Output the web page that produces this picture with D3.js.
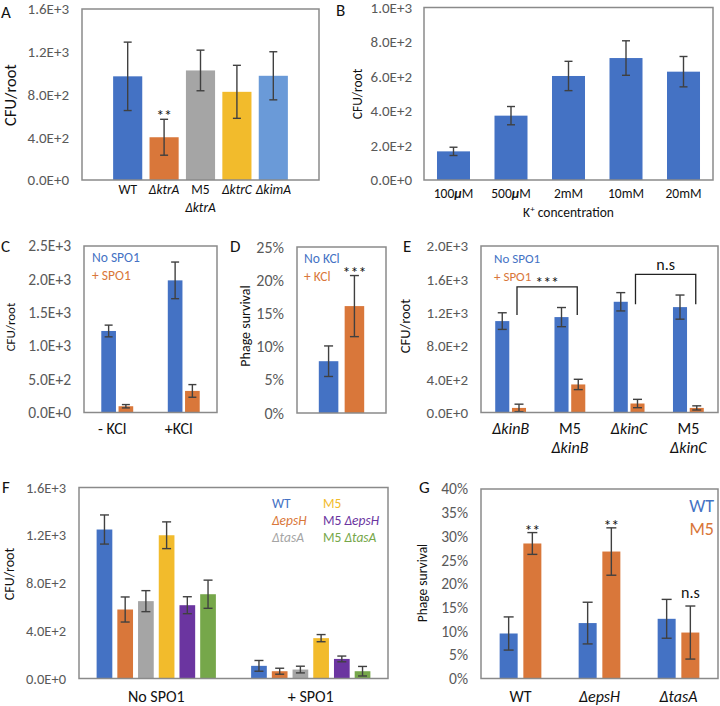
<!DOCTYPE html>
<html><head><meta charset="utf-8">
<script src="https://cdn.jsdelivr.net/npm/d3@7"></script>
<style>
body{margin:0;background:#fff}
svg{display:block}
text{font-family:Carlito, Lato, "Open Sans", sans-serif}
</style>
</head><body>
<svg id="c" width="720" height="706"></svg>
<script>
// ---------------- DATA ----------------
// Panel A
const aCategories = ["WT", "ΔktrA", "M5\nΔktrA", "ΔktrC", "ΔkimA"];
const aValues = [970, 400, 1025, 825, 975];
const aErrors = [320, 168, 190, 248, 225];
const aTicks = [0, 400, 800, 1200, 1600];
// Panel B
const bCategories = ["100µM", "500µM", "2mM", "10mM", "20mM"];
const bValues = [166, 373, 603, 707, 628];
const bErrors = [24, 53, 85, 100, 88];
const bTicks = [0, 200, 400, 600, 800, 1000];
// Panel C
const cGroups = ["- KCl", "+KCl"];
const cSeries = ["No SPO1", "+ SPO1"];
const cNoSpo = [1224, 1984];
const cNoSpoErr = [88, 275];
const cSpo = [94, 324];
const cSpoErr = [25, 95];
const cTicks = [0, 500, 1000, 1500, 2000, 2500];
// Panel D
const dSeries = ["No KCl", "+ KCl"];
const dValues = [7.8, 16.1];
const dErrors = [2.3, 4.6];
const dTicks = [0, 5, 10, 15, 20, 25];
// Panel E
const eGroups = ["ΔkinB", "M5\nΔkinB", "ΔkinC", "M5\nΔkinC"];
const eSeries = ["No SPO1", "+ SPO1"];
const eNoSpo = [1098, 1146, 1330, 1266];
const eNoSpoErr = [100, 115, 110, 145];
const eSpo = [55, 337, 108, 55];
const eSpoErr = [45, 62, 50, 25];
const eTicks = [0, 400, 800, 1200, 1600, 2000];
const eBrackets = [
  {from: "ΔkinB", to: "M5\nΔkinB", top: 1510, low: 1170, label: "***"},
  {from: "ΔkinC", to: "M5\nΔkinC", top: 1660, low: 1300, label: "n.s"}
];
// Panel F
const fGroups = ["No SPO1", "+ SPO1"];
const fStrains = ["WT", "ΔepsH", "ΔtasA", "M5", "M5 ΔepsH", "M5 ΔtasA"];
const fNoSpo = [1248, 578, 648, 1200, 614, 706];
const fNoSpoErr = [122, 105, 88, 112, 71, 118];
const fSpo = [106, 61, 75, 338, 164, 61];
const fSpoErr = [45, 25, 28, 30, 24, 40];
const fTicks = [0, 400, 800, 1200, 1600];
// Panel G
const gGroups = ["WT", "ΔepsH", "ΔtasA"];
const gSeries = ["WT", "M5"];
const gWT = [9.5, 11.7, 12.6];
const gWTErr = [3.5, 4.4, 4.1];
const gM5 = [28.5, 26.8, 9.7];
const gM5Err = [2.3, 5.0, 5.6];
const gSig = ["**", "**", "n.s"];
const gTicks = [0, 5, 10, 15, 20, 25, 30, 35, 40];

// ---------------- STYLE ----------------
const BLUE = "#4472C4", ORANGE = "#D9773A", GRAY = "#A5A5A5", YELLOW = "#F2BB2C",
      LBLUE = "#6A9AD8", PURPLE = "#6B35A0", GREEN = "#76A74A";
const aColors = [BLUE, ORANGE, GRAY, YELLOW, LBLUE];
const twoColors = [BLUE, ORANGE];
const fColors = [BLUE, ORANGE, GRAY, YELLOW, PURPLE, GREEN];
const ERR = "#404040", FRAME = "#8a8a8a", TICKC = "#595959";

const svg = d3.select("#c");
const fmtE = v => v.toExponential(1).toUpperCase();
const fmtP = v => v + "%";

function frame(p) {
  const y = d3.scaleLinear().domain([0, p.max]).range([p.bottom, p.top]);
  const ax = d3.axisLeft(y).tickValues(p.ticks).tickFormat(p.fmt).tickSize(0).tickPadding(p.pad || 13);
  const a = svg.append("g").attr("transform", `translate(${p.x0},0)`).call(ax);
  a.select(".domain").remove();
  a.selectAll("text").attr("fill", TICKC).style("font-size", (p.tickSize || 15) + "px");
  return y;
}
function drawFrame(p) {
  svg.append("rect").attr("x", p.x0).attr("y", p.top).attr("width", p.x1 - p.x0)
    .attr("height", p.bottom - p.top).attr("fill", "none").attr("stroke", FRAME).attr("stroke-width", 1.5);
}
function errorBar(cx, y, v, e, cap) {
  const g = svg.append("g").attr("stroke", ERR).attr("stroke-width", 1.4);
  const t = y(v + e), b = y(Math.max(0, v - e));
  g.append("line").attr("x1", cx).attr("x2", cx).attr("y1", t).attr("y2", b);
  g.append("line").attr("x1", cx - cap).attr("x2", cx + cap).attr("y1", t).attr("y2", t);
  g.append("line").attr("x1", cx - cap).attr("x2", cx + cap).attr("y1", b).attr("y2", b);
}
function bar(x, w, y, v, color) {
  svg.append("rect").attr("x", x).attr("width", w).attr("y", y(v)).attr("height", y(0) - y(v)).attr("fill", color);
}
function richText(sel, line) {
  const toks = line.split(" ");
  toks.forEach((t, i) => {
    const s = (i > 0 ? " " : "");
    if (t.startsWith("Δ")) {
      sel.append("tspan").text(s + t).style("font-style", "italic");
    } else if (t.includes("µ")) {
      const parts = t.split("µ");
      sel.append("tspan").text(s + parts[0]);
      sel.append("tspan").text("μ").style("font-style", "italic").style("font-weight", "bold");
      sel.append("tspan").text(parts[1]);
    } else {
      sel.append("tspan").text(s + t);
    }
  });
}
function label(text, x, y, opts = {}) {
  const lines = text.split("\n");
  lines.forEach((ln, i) => {
    const t = svg.append("text").attr("x", x).attr("y", y + i * (opts.lh || 16))
      .attr("text-anchor", opts.anchor || "middle").attr("fill", opts.color || "#111")
      .style("font-size", (opts.size || 14) + "px");
    richText(t, ln);
  });
}
function yLabel(text, x, yc, size) {
  svg.append("text").attr("transform", `translate(${x},${yc}) rotate(-90)`).attr("text-anchor", "middle")
    .attr("dy", "0.35em").attr("fill", "#111").style("font-size", (size || 14) + "px").text(text);
}
function letter(t, x, y) {
  svg.append("text").attr("x", x).attr("y", y).attr("fill", "#111").style("font-size", "17px").text(t);
}
function grouped(p, groups, series, vals, errs, colors, y, cap) {
  const x0 = d3.scaleBand().domain(groups).range([p.x0, p.x1]).paddingInner(p.gpi).paddingOuter(p.gpi / 2);
  const x1 = d3.scaleBand().domain(series).range([0, x0.bandwidth()]).paddingInner(p.spi);
  groups.forEach((g, gi) => {
    series.forEach((s, si) => {
      bar(x0(g) + x1(s), x1.bandwidth(), y, vals[si][gi], colors[si]);
    });
  });
  groups.forEach((g, gi) => {
    series.forEach((s, si) => {
      errorBar(x0(g) + x1(s) + x1.bandwidth() / 2, y, vals[si][gi], errs[si][gi], cap);
    });
  });
  return {x0, x1};
}

// ---------------- PANEL A ----------------
{
  const p = {x0: 82, x1: 319, top: 9, bottom: 180, max: 1600, ticks: aTicks, fmt: fmtE, tickSize: 15};
  const y = frame(p);
  const x = d3.scaleBand().domain(aCategories).range([p.x0, p.x1]).paddingInner(0.2).paddingOuter(0.855);
  aCategories.forEach((c, i) => bar(x(c), x.bandwidth(), y, aValues[i], aColors[i]));
  aCategories.forEach((c, i) => errorBar(x(c) + x.bandwidth() / 2, y, aValues[i], aErrors[i], 4));
  drawFrame(p);
  aCategories.forEach(c => label(c, x(c) + x.bandwidth() / 2, 194, {size: 13.5, lh: 18}));
  const ki = 1;
  label("**", x(aCategories[ki]) + x.bandwidth() / 2, y(aValues[ki] + aErrors[ki]) + 2, {size: 16});
  yLabel("CFU/root", 10, 95, 16.5);
  letter("A", 1, 18);
}
// ---------------- PANEL B ----------------
{
  const p = {x0: 424, x1: 713, top: 7.5, bottom: 180, max: 1000, ticks: bTicks, fmt: fmtE, pad: 12, tickSize: 15};
  const y = frame(p);
  const x = d3.scaleBand().domain(bCategories).range([p.x0, p.x1]).paddingInner(0.426).paddingOuter(0.226);
  bCategories.forEach((c, i) => bar(x(c), x.bandwidth(), y, bValues[i], BLUE));
  bCategories.forEach((c, i) => errorBar(x(c) + x.bandwidth() / 2, y, bValues[i], bErrors[i], 4));
  drawFrame(p);
  bCategories.forEach(c => label(c, x(c) + x.bandwidth() / 2, 198, {size: 13.5}));
  const t = svg.append("text").attr("x", (p.x0 + p.x1) / 2).attr("y", 217).attr("text-anchor", "middle")
    .attr("fill", "#111").style("font-size", "13.5px");
  t.append("tspan").text("K");
  t.append("tspan").text("+").style("font-size", "9px").attr("dy", -5);
  t.append("tspan").text(" concentration").attr("dy", 5);
  yLabel("CFU/root", 357, 94, 13.5);
  letter("B", 336, 16);
}
// ---------------- PANEL C ----------------
{
  const p = {x0: 84, x1: 217, top: 246, bottom: 412.5, max: 2500, ticks: cTicks, fmt: fmtE, gpi: 0.52, spi: 0.15, tickSize: 15.5};
  const y = frame(p);
  const {x0} = grouped(p, cGroups, cSeries, [cNoSpo, cSpo], [cNoSpoErr, cSpoErr], twoColors, y, 4);
  drawFrame(p);
  cGroups.forEach(g => label(g, x0(g) + x0.bandwidth() / 2 - 5, 434, {size: 16}));
  cSeries.forEach((s, i) => label(s, 92, 262 + i * 17.5, {anchor: "start", color: twoColors[i], size: 13.5}));
  yLabel("CFU/root", 10, 327, 13);
  letter("C", 1, 252);
}
// ---------------- PANEL D ----------------
{
  const p = {x0: 297, x1: 386, top: 247, bottom: 413, max: 25, ticks: dTicks, fmt: fmtP, gpi: 0.49, spi: 0.244, tickSize: 16};
  const y = frame(p);
  const {x0, x1} = grouped(p, ["all"], dSeries, [[dValues[0]], [dValues[1]]], [[dErrors[0]], [dErrors[1]]], twoColors, y, 4.5);
  drawFrame(p);
  dSeries.forEach((s, i) => label(s, 304, 263 + i * 18, {anchor: "start", color: twoColors[i], size: 13.5}));
  label("***", x0("all") + x1(dSeries[1]) + x1.bandwidth() / 2, y(dValues[1] + dErrors[1]) + 2, {size: 16});
  yLabel("Phage survival", 245, 326, 14);
  letter("D", 230, 252);
}
// ---------------- PANEL E ----------------
{
  const p = {x0: 481, x1: 718, top: 246, bottom: 412.5, max: 2000, ticks: eTicks, fmt: fmtE, gpi: 0.48, spi: 0.16, tickSize: 15};
  const y = frame(p);
  const {x0, x1} = grouped(p, eGroups, eSeries, [eNoSpo, eSpo], [eNoSpoErr, eSpoErr], twoColors, y, 4.5);
  drawFrame(p);
  eGroups.forEach(g => label(g, x0(g) + x0.bandwidth() / 2, 434, {size: 16, lh: 19}));
  eSeries.forEach((s, i) => label(s, 494, 263 + i * 17.5, {anchor: "start", color: twoColors[i], size: 13}));
  eBrackets.forEach(b => {
    const xa = x0(b.from) + x1(eSeries[1]) + x1.bandwidth() / 2 - 2;
    const xb = x0(b.to) + x1(eSeries[1]) + x1.bandwidth() / 2 - 1;
    svg.append("path").attr("d", `M${xa},${y(b.low)}V${y(b.top)}H${xb}V${y(b.low)}`)
      .attr("fill", "none").attr("stroke", "#222").attr("stroke-width", 1.3);
    label(b.label, (xa + xb) / 2, y(b.top) - (b.label === "n.s" ? 4 : -1), {size: 16});
  });
  yLabel("CFU/root", 405, 326, 14.5);
  letter("E", 403, 252);
}
// ---------------- PANEL F ----------------
{
  const p = {x0: 79, x1: 388, top: 487.5, bottom: 678.5, max: 1600, ticks: fTicks, fmt: fmtE, gpi: 0.228, spi: 0.242, tickSize: 14.5};
  const y = frame(p);
  const vals = fStrains.map((s, i) => [fNoSpo[i], fSpo[i]]);
  const errs = fStrains.map((s, i) => [fNoSpoErr[i], fSpoErr[i]]);
  const {x0} = grouped(p, fGroups, fStrains, vals, errs, fColors, y, 4.5);
  drawFrame(p);
  fGroups.forEach(g => label(g, x0(g) + x0.bandwidth() / 2, 702, {size: 16}));
  fStrains.forEach((s, i) => {
    const col = Math.floor(i / 3), row = i % 3;
    label(s, col ? 323 : 272, 508 + row * 17, {anchor: "start", color: fColors[i], size: 13.5});
  });
  yLabel("CFU/root", 9, 574, 14);
  letter("F", 2, 493);
}
// ---------------- PANEL G ----------------
{
  const p = {x0: 481, x1: 718, top: 489, bottom: 678.5, max: 40, ticks: gTicks, fmt: fmtP, gpi: 0.472, spi: 0.24, tickSize: 15.5};
  const y = frame(p);
  const {x0, x1} = grouped(p, gGroups, gSeries, [gWT, gM5], [gWTErr, gM5Err], twoColors, y, 5);
  drawFrame(p);
  gGroups.forEach(g => label(g, x0(g) + x0.bandwidth() / 2, 702, {size: 16}));
  gSeries.forEach((s, i) => label(s, 714, 512 + i * 22.5, {anchor: "end", color: twoColors[i], size: 18}));
  gGroups.forEach((g, i) => {
    const cx = x0(g) + x1("M5") + x1.bandwidth() / 2;
    const top = y(gM5[i] + gM5Err[i]);
    label(gSig[i], cx, gSig[i] === "n.s" ? top - 8 : top + 3, {size: 16});
  });
  yLabel("Phage survival", 422, 583, 13.5);
  letter("G", 419, 493);
}
</script>
</body></html>
